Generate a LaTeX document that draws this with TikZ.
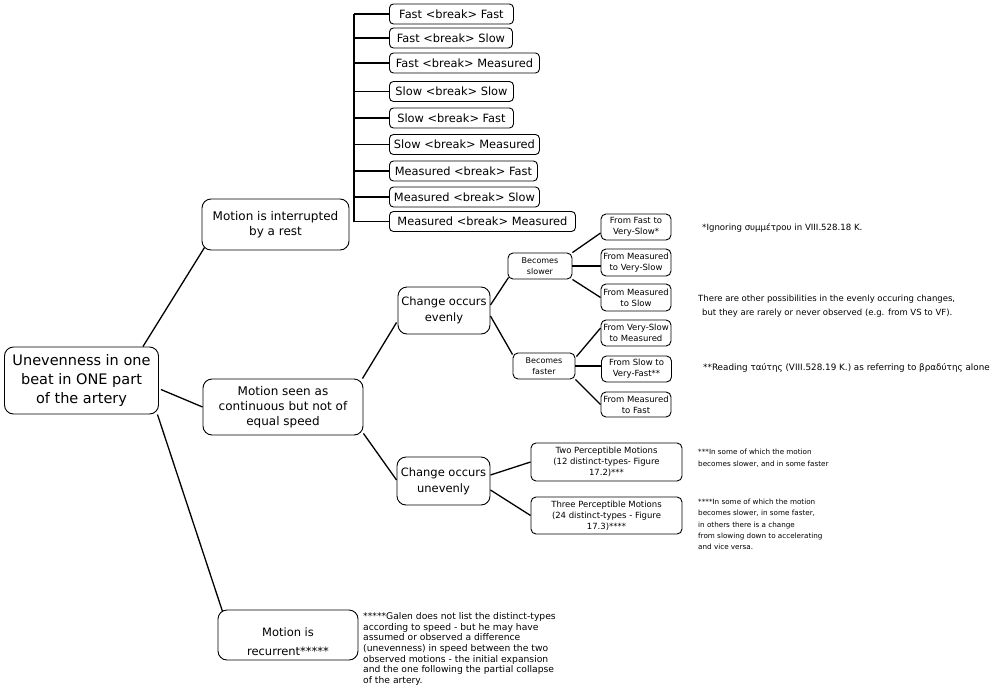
\documentclass[tikz,border=0pt]{standalone}
\usepackage{fontspec}
\setmainfont{DejaVu Sans}
\usetikzlibrary{calc}
\newcommand{\fs}[2]{\fontsize{#1}{#2}\selectfont}
\tikzset{
  box/.style={draw, line width=0.9pt, rounded corners=9pt, align=center, inner sep=0pt, text=black},
  sbox/.style={box, rounded corners=5pt, minimum width=70pt, font=\fs{8.5}{11}},
  lbox/.style={box, rounded corners=4pt, minimum height=20pt, anchor=west, font=\fs{11.4}{13}},
  edge/.style={line width=1.3pt},
  brk/.style={line width=1.6pt},
  note/.style={anchor=west, align=left, inner sep=0pt, text=black},
}
\begin{document}
\begin{tikzpicture}[x=1pt, y=-1pt]
\useasboundingbox[fill=white] (0,0) rectangle (1000,693);

% main nodes
\node[box, minimum width=154pt, minimum height=67pt, font=\fs{14.5}{19}] (root) at (81.5,380.5) {Unevenness in one\\beat in ONE part\\of the artery};
\node[box, minimum width=147pt, minimum height=51pt, font=\fs{12}{15}] (rest) at (275.5,224.5) {Motion is interrupted\\by a rest};
\node[box, minimum width=160pt, minimum height=56pt, font=\fs{12}{15}] (cont) at (283,407) {Motion seen as\\continuous but not of\\equal speed};
\node[box, minimum width=140pt, minimum height=50pt, font=\fs{11.5}{18.5}] (recur) at (288,635) {\rule{0pt}{22pt}Motion is\\recurrent*****};
\node[box, minimum width=92pt, minimum height=47pt, font=\fs{11.5}{16}] (even) at (444,310.5) {Change occurs\\evenly};
\node[box, minimum width=93pt, minimum height=48pt, font=\fs{11.5}{16}] (uneven) at (443.5,481) {Change occurs\\unevenly};
\node[box, rounded corners=5pt, minimum width=64pt, minimum height=26pt, font=\fs{8}{10.5}] (slower) at (540,266) {Becomes\\slower};
\node[box, rounded corners=5pt, minimum width=62pt, minimum height=26pt, font=\fs{8}{10.5}] (faster) at (544,366) {Becomes\\faster};

\node[sbox, minimum height=26pt] (f1) at (636,227) {From Fast to\\Very-Slow*};
\node[sbox, minimum height=27pt] (f2) at (636,262.5) {From Measured\\to Very-Slow};
\node[sbox, minimum height=27pt] (f3) at (636,297.5) {From Measured\\to Slow};
\node[sbox, minimum height=26pt] (f4) at (636,333) {From Very-Slow\\to Measured};
\node[sbox, minimum height=26pt] (f5) at (636.5,369) {From Slow to\\Very-Fast**};
\node[sbox, minimum height=25pt] (f6) at (636,404.5) {From Measured\\to Fast};

\node[sbox, minimum width=151pt, minimum height=38pt] (two) at (606.5,462) {Two Perceptible Motions\\(12 distinct-types- Figure\\17.2)***};
\node[sbox, minimum width=151pt, minimum height=37pt] (three) at (606.5,515.5) {Three Perceptible Motions\\(24 distinct-types - Figure\\17.3)****};

% list
\node[lbox, minimum width=124pt] (l1) at (389,14) {Fast <break> Fast};
\node[lbox, minimum width=123pt] (l2) at (389,38) {Fast <break> Slow};
\node[lbox, minimum width=150pt] (l3) at (389,63) {Fast <break> Measured};
\node[lbox, minimum width=124pt] (l4) at (389,91.5) {Slow <break> Slow};
\node[lbox, minimum width=124pt] (l5) at (389,118) {Slow <break> Fast};
\node[lbox, minimum width=150pt] (l6) at (389,144.5) {Slow <break> Measured};
\node[lbox, minimum width=148pt] (l7) at (389,171) {Measured <break> Fast};
\node[lbox, minimum width=150pt] (l8) at (389,197) {Measured <break> Slow};
\node[lbox, minimum width=186pt] (l9) at (389,221.5) {Measured <break> Measured};

% bracket
\coordinate (bt) at (354,14);
\coordinate (bb) at (354,221.5);
\draw[brk] (bt) -- (bb);
\draw[brk] ($(rest.east)+(0,-10.5)$) -- ($(rest.east)+(0,-10.5)$ -| bt);
\foreach \n in {l1,l2,l3,l4,l5,l6,l7,l8,l9} {
  \draw[brk] (\n.west -| bt) -- (\n.west);
}

% edges
\draw[edge] ($(root.north east)+(-16,0)$) -- ($(rest.south west)+(3,-3)$);
\draw[edge] ($(root.east)+(2,9)$) -- (cont.west);
\draw[edge] ($(root.south east)+(-1.5,0)$) -- ($(recur.north west)+(5,2)$);
\draw[edge] ($(cont.north east)+(-1,0)$) -- ($(even.west)+(-1,12)$);
\draw[edge] ($(cont.south east)+(0,-2)$) -- ($(uneven.west)+(0,-1)$);
\draw[edge] ($(even.east)+(0,-5.5)$) -- ($(slower.south west)+(1,-2)$);
\draw[edge] ($(even.east)+(0,5.5)$) -- ($(faster.north west)+(0,2)$);
\draw[edge] (slower.north east) -- ($(f1.west)+(0,6)$);
\draw[edge] (slower.east) -- (slower.east -| f2.west);
\draw[edge] (slower.south east) -- (f3.west);
\draw[edge] ($(faster.north east)+(1,4)$) -- ($(f4.west)+(0,-5)$);
\draw[edge] (faster.east) -- (faster.east -| f5.west);
\draw[edge] (faster.south east) -- (f6.west);
\draw[edge] ($(uneven.east)+(0,-6)$) -- (two.west);
\draw[edge] ($(uneven.east)+(0,9)$) -- (three.west);

% notes
\node[note, font=\fs{8.6}{12}] (n1) at (702,228) {*Ignoring συμμέτρου in VIII.528.18 K.};
\node[note, font=\fs{8.5}{14}] (n2) at (698,306) {There are other possibilities in the evenly occuring changes,\\\hspace*{4pt}but they are rarely or never observed (e.g. from VS to VF).};
\node[note, font=\fs{8.8}{12}] (n3) at (703,368) {**Reading ταύτης (VIII.528.19 K.) as referring to βραδύτης alone};
\node[note, font=\fs{7.2}{12}] (n4) at (698,458.5) {***In some of which the motion\\becomes slower, and in some faster};
\node[note, font=\fs{7.2}{11.4}] (n5) at (698,524.5) {****In some of which the motion\\becomes slower, in some faster,\\in others there is a change\\from slowing down to accelerating\\and vice versa.};
\node[note, font=\fs{9.2}{10.7}] (n6) at (363,649) {*****Galen does not list the distinct-types\\according to speed - but he may have\\assumed or observed a difference\\(unevenness) in speed between the two\\observed motions - the initial expansion\\and the one following the partial collapse\\of the artery.};
\end{tikzpicture}
\end{document}
